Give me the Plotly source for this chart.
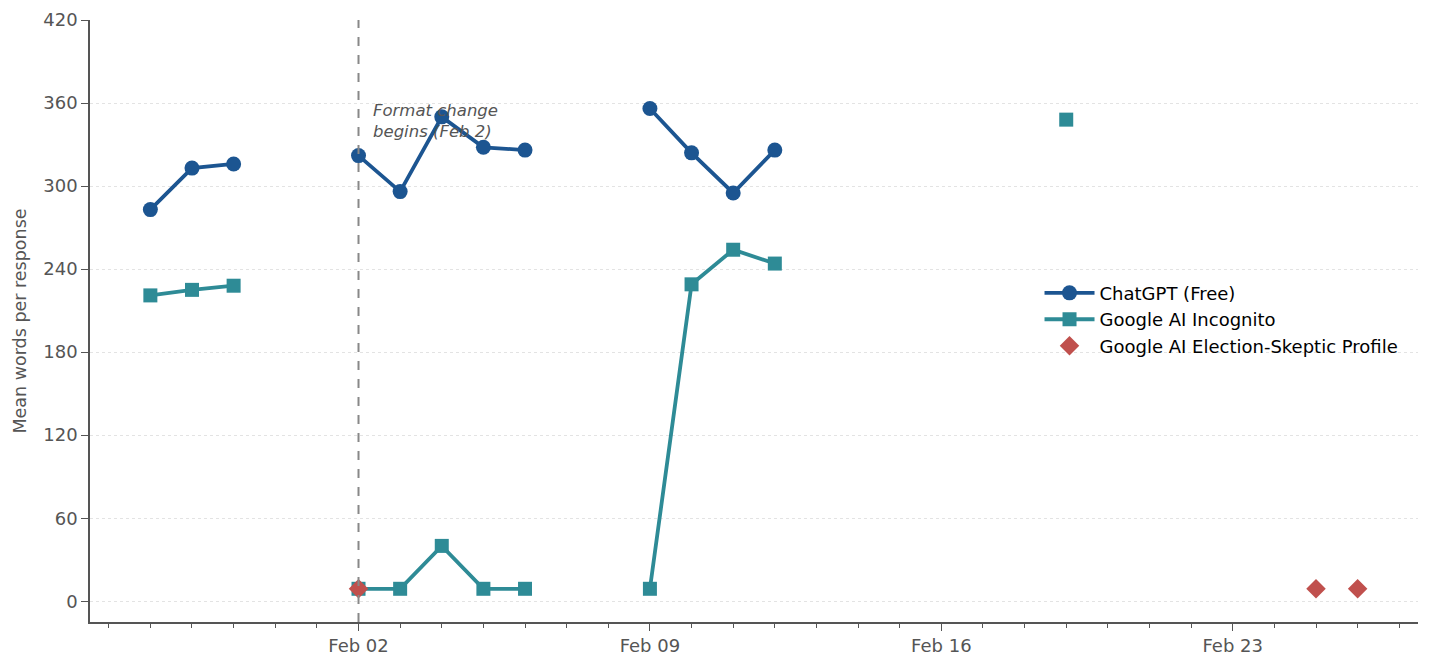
import plotly.graph_objects as go

# daily dates Jan 28 .. Feb 26 (missing days left as None so lines break)
dates = [
    "2026-01-28", "2026-01-29", "2026-01-30", "2026-01-31", "2026-02-01",
    "2026-02-02", "2026-02-03", "2026-02-04", "2026-02-05", "2026-02-06",
    "2026-02-07", "2026-02-08", "2026-02-09", "2026-02-10", "2026-02-11",
    "2026-02-12", "2026-02-13", "2026-02-19",
]
chatgpt = [283, 313, 316, None, None, 322, 296, 350, 328, 326,
           None, None, 356, 324, 295, 326, None, None]
google_incognito = [221, 225, 228, None, None, 9, 9, 40, 9, 9,
                    None, None, 9, 229, 254, 244, None, 348]

skeptic_dates = ["2026-02-02", "2026-02-25", "2026-02-26"]
skeptic_vals = [9, 9, 9]

format_change_date = "2026-02-02"

BLUE = "#1c5591"
TEAL = "#2e8b96"
RED = "#c0504d"
GREY = "#555555"

fig = go.Figure()

fig.add_trace(go.Scatter(
    x=dates, y=chatgpt, name="ChatGPT (Free)",
    mode="lines+markers", connectgaps=False,
    line=dict(color=BLUE, width=3.8),
    marker=dict(symbol="circle", size=15, color=BLUE),
))
fig.add_trace(go.Scatter(
    x=dates, y=google_incognito, name="Google AI Incognito",
    mode="lines+markers", connectgaps=False,
    line=dict(color=TEAL, width=3.8),
    marker=dict(symbol="square", size=14, color=TEAL),
))
fig.add_trace(go.Scatter(
    x=skeptic_dates, y=skeptic_vals, name="Google AI Election-Skeptic Profile",
    mode="markers",
    marker=dict(symbol="diamond", size=15, color=RED),
))

# format change marker
fig.add_vline(x=format_change_date, line=dict(color="#888888", width=2, dash="dash"))
fig.add_annotation(
    x="2026-02-02 07:00", y=363, xanchor="left", yanchor="top",
    text="<i>Format change<br>begins (Feb 2)</i>", showarrow=False, align="left",
    font=dict(size=16.5, color=GREY),
)

# page body has an 8px margin, so the figure is a bit smaller than the window
fig.update_layout(
    width=1424, height=659,
    plot_bgcolor="white", paper_bgcolor="white",
    font=dict(family="DejaVu Sans", color=GREY),
    margin=dict(l=82, r=14, t=12, b=45),
    legend=dict(
        x=0.715, y=0.577, xanchor="left", yanchor="top",
        font=dict(size=18, color="black"), bgcolor="rgba(0,0,0,0)",
        tracegroupgap=0, itemwidth=50,
    ),
)

fig.update_xaxes(
    type="date", automargin=False,
    range=["2026-01-26 13:12", "2026-02-27 10:48"],
    tick0="2026-02-02", dtick=7 * 86400000, tickformat="%b %d",
    ticks="outside", ticklen=7, tickcolor=GREY, tickwidth=1,
    minor=dict(dtick=86400000, tick0="2026-02-02", ticks="outside", ticklen=4, tickcolor=GREY, showgrid=False),
    showline=True, linecolor=GREY, linewidth=1.5,
    showgrid=False, zeroline=False,
    tickfont=dict(size=18, color=GREY),
)
fig.update_yaxes(
    automargin=False,
    range=[-15, 420], dtick=60, tick0=0,
    ticks="outside", ticklen=7, tickcolor=GREY,
    showline=True, linecolor=GREY, linewidth=1.5,
    showgrid=True, gridcolor="#e3e3e3", griddash="dot", gridwidth=1,
    zeroline=False,
    tickfont=dict(size=18, color=GREY),
    title=dict(text="Mean words per response", font=dict(size=17.5, color=GREY), standoff=12),
)

fig.write_html("out.html")
